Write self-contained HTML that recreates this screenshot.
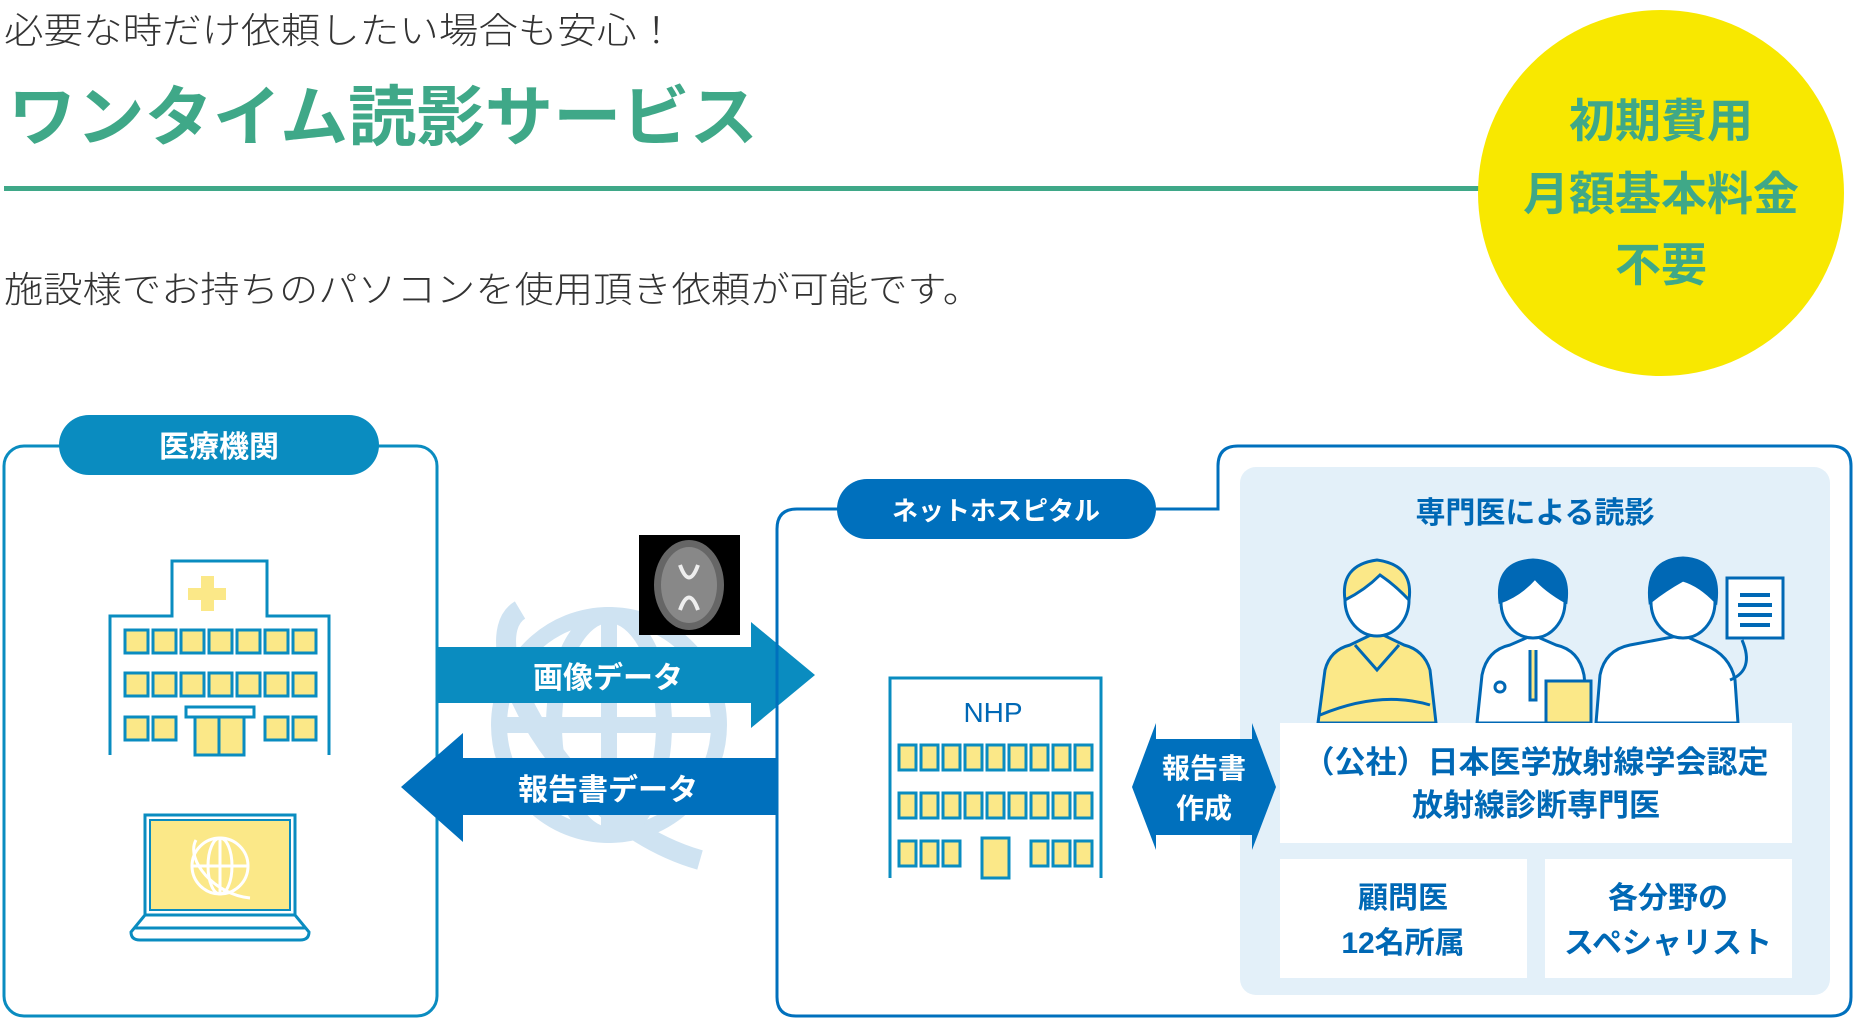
<!DOCTYPE html>
<html><head><meta charset="utf-8"><style>
html,body{margin:0;padding:0;background:#fff;width:1856px;height:1019px;overflow:hidden}
svg{display:block}
text{font-family:"Liberation Sans","Noto Sans CJK JP",sans-serif}
</style></head><body>
<svg width="1856" height="1019" viewBox="0 0 1856 1019" xmlns="http://www.w3.org/2000/svg">
<!-- header -->
<text x="4" y="43" font-size="36" fill="#333" font-weight="300" textLength="672" lengthAdjust="spacingAndGlyphs">必要な時だけ依頼したい場合も安心！</text>
<text x="8" y="140" font-size="66" fill="#3fa888" font-weight="bold" textLength="750" lengthAdjust="spacingAndGlyphs">ワンタイム読影サービス</text>
<rect x="4" y="186" width="1500" height="5" fill="#3fa888"/>
<text x="4" y="302" font-size="36" fill="#333" font-weight="300" textLength="978" lengthAdjust="spacingAndGlyphs">施設様でお持ちのパソコンを使用頂き依頼が可能です。</text>
<circle cx="1661" cy="193" r="183" fill="#f8e800"/>
<g font-size="46" font-weight="bold" fill="#3fa888" text-anchor="middle">
<text x="1661" y="137">初期費用</text>
<text x="1661" y="210">月額基本料金</text>
<text x="1661" y="281">不要</text>
</g>

<!-- globe background -->
<g fill="none" stroke="#cfe3f2" stroke-width="16">
<circle cx="609" cy="725" r="110"/>
<ellipse cx="609" cy="725" rx="55" ry="110"/>
<line x1="609" y1="615" x2="609" y2="835"/>
<line x1="499" y1="725" x2="719" y2="725"/>
<line x1="515" y1="670" x2="703" y2="670"/>
<line x1="515" y1="780" x2="703" y2="780"/>
<path d="M520 610 C470 640 560 820 700 860" stroke-width="20"/>
</g>

<!-- left box -->
<rect x="4" y="446" width="433" height="570" rx="20" fill="none" stroke="#0a8cc0" stroke-width="3"/>
<rect x="59" y="415" width="320" height="60" rx="30" fill="#0a8cc0"/>
<text x="219" y="457" font-size="30" font-weight="bold" fill="#fff" text-anchor="middle">医療機関</text>

<!-- hospital -->
<g stroke="#0a8cc0" stroke-width="3">
<path d="M110 755 V616 H172 V561 H267 V616 H329 V755" fill="#fff"/>
<rect x="201" y="576" width="13" height="35" fill="#fbe888" stroke="none"/>
<rect x="188" y="588" width="38" height="12" fill="#fbe888" stroke="none"/>
</g>
<g fill="#fbe888" stroke="#0a8cc0" stroke-width="3">
<rect x="125" y="630" width="23" height="23"/><rect x="153" y="630" width="23" height="23"/><rect x="181" y="630" width="23" height="23"/><rect x="209" y="630" width="23" height="23"/><rect x="237" y="630" width="23" height="23"/><rect x="265" y="630" width="23" height="23"/><rect x="293" y="630" width="23" height="23"/>
<rect x="125" y="673" width="23" height="23"/><rect x="153" y="673" width="23" height="23"/><rect x="181" y="673" width="23" height="23"/><rect x="209" y="673" width="23" height="23"/><rect x="237" y="673" width="23" height="23"/><rect x="265" y="673" width="23" height="23"/><rect x="293" y="673" width="23" height="23"/>
<rect x="125" y="717" width="23" height="23"/><rect x="153" y="717" width="23" height="23"/>
<rect x="265" y="717" width="23" height="23"/><rect x="293" y="717" width="23" height="23"/>
<rect x="195" y="716" width="49" height="39"/><line x1="219" y1="716" x2="219" y2="755"/>
<rect x="186" y="707" width="68" height="10" fill="#fff"/>
</g>
<!-- laptop -->
<g stroke="#0a8cc0" stroke-width="3">
<rect x="145" y="815" width="150" height="100" fill="#fff"/>
<rect x="150" y="820" width="140" height="90" fill="#fbe888" stroke-width="2"/>
<path d="M145 915 L131 932 Q131 940 140 940 H300 Q309 940 309 932 L295 915 Z" fill="#fff"/>
<line x1="135" y1="928" x2="305" y2="928"/>
</g>
<g fill="none" stroke="#fff" stroke-width="3">
<circle cx="220" cy="866" r="28"/><ellipse cx="220" cy="866" rx="12" ry="28"/>
<line x1="192" y1="866" x2="248" y2="866"/><line x1="220" y1="838" x2="220" y2="894"/>
<path d="M196 840 C185 860 215 895 250 898"/>
</g>

<!-- arrows -->
<path d="M438 647 H751 V622 L815 675 L751 728 V703 H438 Z" fill="#0a8cc0"/>
<text x="608" y="688" font-size="30" font-weight="bold" fill="#fff" text-anchor="middle">画像データ</text>
<path d="M776 758 H463 V733 L401 787 L463 842 V815 H776 Z" fill="#0070bd"/>
<text x="608" y="800" font-size="30" font-weight="bold" fill="#fff" text-anchor="middle">報告書データ</text>

<!-- MRI -->
<rect x="639" y="535" width="101" height="100" fill="#000"/>
<ellipse cx="689" cy="585" rx="35" ry="45" fill="#666"/>
<ellipse cx="689" cy="585" rx="28" ry="38" fill="#888"/>
<path d="M680 565 Q689 590 698 565 M680 610 Q689 585 698 610" stroke="#eee" stroke-width="4" fill="none"/>

<!-- right box -->
<path d="M1156 509 H1218 V466 Q1218 446 1238 446 H1831 Q1851 446 1851 466 V997 Q1851 1016 1831 1016 H796 Q777 1016 777 997 V529 Q777 509 797 509 H840" fill="none" stroke="#0070bd" stroke-width="3"/>
<rect x="837" y="479" width="319" height="60" rx="30" fill="#0070bd"/>
<text x="996" y="520" font-size="26" font-weight="bold" fill="#fff" text-anchor="middle">ネットホスピタル</text>

<!-- panel -->
<rect x="1240" y="467" width="590" height="528" rx="16" fill="#e3f0f9"/>
<text x="1535" y="523" font-size="30" font-weight="bold" fill="#0068b5" text-anchor="middle">専門医による読影</text>

<!-- doctors -->
<g stroke="#0068b5" stroke-width="3">
<path d="M1318 723 L1325 670 Q1330 650 1350 645 L1377 632 L1404 645 Q1424 650 1430 670 L1436 723 Z" fill="#fbe888"/>
<path d="M1355 645 L1377 670 L1399 645" fill="none"/>
<ellipse cx="1377" cy="600" rx="32" ry="36" fill="#fff"/>
<path d="M1345 600 Q1340 565 1377 560 Q1414 565 1409 600 Q1395 585 1380 575 Q1365 590 1345 600Z" fill="#fbe888"/>
<path d="M1320 715 Q1380 690 1430 705" fill="none"/>
<path d="M1477 723 L1482 675 Q1487 650 1510 645 L1533 635 L1556 645 Q1579 650 1584 675 L1589 723 Z" fill="#fff"/>
<path d="M1530 650 L1530 700 L1536 700 L1536 650" fill="#fbe888"/>
<ellipse cx="1533" cy="602" rx="32" ry="36" fill="#fff"/>
<path d="M1500 602 Q1495 562 1533 560 Q1571 562 1566 602 Q1545 590 1535 578 Q1520 595 1500 602Z" fill="#0068b5"/>
<rect x="1546" y="681" width="45" height="42" fill="#fbe888"/>
<circle cx="1500" cy="687" r="5" fill="#fff"/>
<path d="M1596 723 L1600 675 Q1605 650 1630 645 L1683 635 L1705 645 Q1730 655 1735 680 L1738 723 Z" fill="#fff"/>
<ellipse cx="1683" cy="602" rx="32" ry="36" fill="#fff"/>
<path d="M1650 602 Q1645 560 1683 558 Q1721 560 1716 602 Q1700 585 1683 580 Q1665 590 1650 602Z" fill="#0068b5"/>
<path d="M1730 680 Q1755 670 1742 640" fill="none"/>
<rect x="1727" y="578" width="56" height="60" fill="#fff"/>
<path d="M1740 595 H1770 M1738 605 H1772 M1738 615 H1772 M1740 625 H1770" stroke-width="4"/>
</g>

<!-- white boxes -->
<rect x="1280" y="723" width="512" height="120" fill="#fff"/>
<g font-size="31" font-weight="bold" fill="#0068b5" text-anchor="middle">
<text x="1536" y="773">（公社）日本医学放射線学会認定</text>
<text x="1536" y="816">放射線診断専門医</text>
</g>
<rect x="1280" y="859" width="247" height="119" fill="#fff"/>
<rect x="1545" y="859" width="247" height="119" fill="#fff"/>
<g font-size="30" font-weight="bold" fill="#0068b5" text-anchor="middle">
<text x="1403" y="908">顧問医</text>
<text x="1403" y="953">12名所属</text>
<text x="1668" y="908">各分野の</text>
<text x="1668" y="953">スペシャリスト</text>
</g>

<!-- NHP building -->
<path d="M890 878 V678 H1101 V878" fill="#fff" stroke="#0a8cc0" stroke-width="3"/>
<text x="993" y="722" font-size="28" fill="#0068b5" text-anchor="middle">NHP</text>
<g fill="#fbe888" stroke="#0a8cc0" stroke-width="3">
<rect x="899" y="745" width="17" height="25"/><rect x="921" y="745" width="17" height="25"/><rect x="943" y="745" width="17" height="25"/><rect x="965" y="745" width="17" height="25"/><rect x="987" y="745" width="17" height="25"/><rect x="1009" y="745" width="17" height="25"/><rect x="1031" y="745" width="17" height="25"/><rect x="1053" y="745" width="17" height="25"/><rect x="1075" y="745" width="17" height="25"/>
<rect x="899" y="793" width="17" height="25"/><rect x="921" y="793" width="17" height="25"/><rect x="943" y="793" width="17" height="25"/><rect x="965" y="793" width="17" height="25"/><rect x="987" y="793" width="17" height="25"/><rect x="1009" y="793" width="17" height="25"/><rect x="1031" y="793" width="17" height="25"/><rect x="1053" y="793" width="17" height="25"/><rect x="1075" y="793" width="17" height="25"/>
<rect x="899" y="841" width="17" height="25"/><rect x="921" y="841" width="17" height="25"/><rect x="943" y="841" width="17" height="25"/>
<rect x="982" y="838" width="27" height="40"/>
<rect x="1031" y="841" width="17" height="25"/><rect x="1053" y="841" width="17" height="25"/><rect x="1075" y="841" width="17" height="25"/>
</g>

<!-- double arrow -->
<path d="M1156 723 V739 H1252 V723 L1276 787 L1252 850 V835 H1156 V850 L1132 787 L1156 723 Z" fill="#0070bd"/>
<g font-size="28" font-weight="bold" fill="#fff" text-anchor="middle">
<text x="1204" y="778">報告書</text>
<text x="1204" y="818">作成</text>
</g>
</svg>
</body></html>
